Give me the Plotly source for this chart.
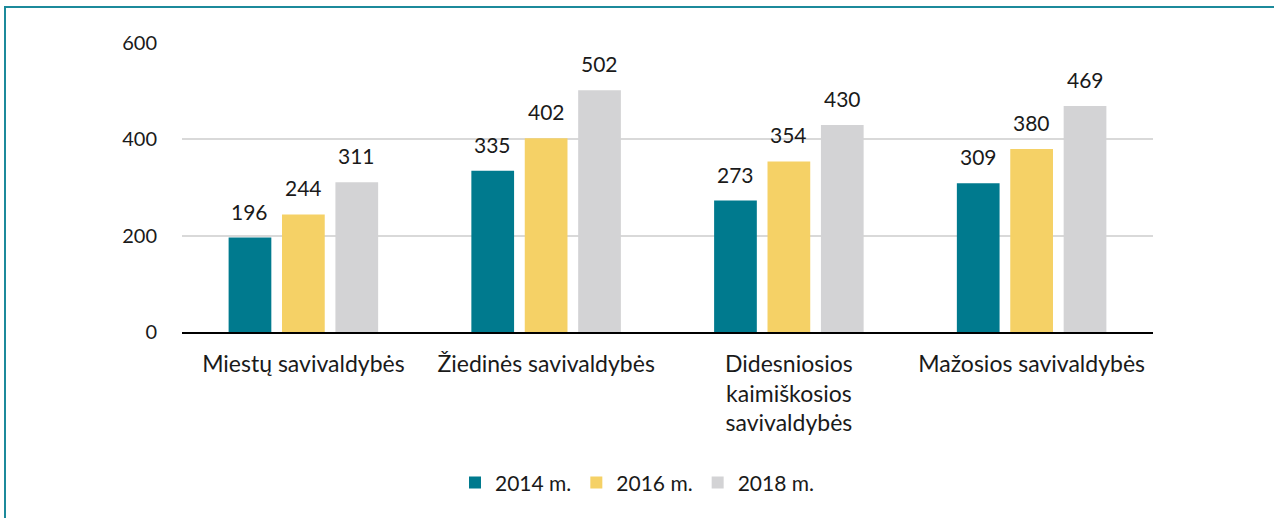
import plotly.graph_objects as go

categories = ["Miestų savivaldybės", "Žiedinės savivaldybės",
              "Didesniosios<br>kaimiškosios<br>savivaldybės", "Mažosios savivaldybės"]
series_names = ["2014 m.", "2016 m.", "2018 m."]
values_2014 = [196, 335, 273, 309]
values_2016 = [244, 402, 354, 380]
values_2018 = [311, 502, 430, 469]
colors = ["#007A8E", "#F5D166", "#D3D3D5"]
y_ticks = [0, 200, 400, 600]

FONT = "Lato, Open Sans, sans-serif"

W, H = 1274, 518
L, R, T, B = 182, 121, 43, 186
pw, ph = W - L - R, H - T - B
BARGAP = 0.34
cat_px = pw / len(categories)
slot_px = cat_px * (1 - BARGAP) / len(series_names)

fig = go.Figure()
annotations = []
all_series = [values_2014, values_2016, values_2018]
for i, (name, vals, col) in enumerate(zip(series_names, all_series, colors)):
    fig.add_trace(go.Bar(
        name=name, x=categories, y=vals, marker=dict(color=col, line=dict(width=0)),
        hoverinfo="x+y+name",
    ))
    off = (i - (len(series_names) - 1) / 2) * slot_px
    for c, v in zip(categories, vals):
        annotations.append(dict(x=c, y=v, text=str(v), showarrow=False, xref="x", yref="y",
                                xshift=off, yshift=12, yanchor="bottom",
                                font=dict(size=21, color="#1a1a1a", family=FONT)))

fig.update_layout(
    width=W, height=H,
    margin=dict(l=L, r=R, t=T, b=B),
    paper_bgcolor="white", plot_bgcolor="white",
    barmode="group", bargap=BARGAP, bargroupgap=0.2,
    font=dict(family=FONT, size=20, color="#1a1a1a"),
    showlegend=True,
    legend=dict(orientation="h", xref="container", yref="container",
                x=0.5, y=0.068, xanchor="center", yanchor="middle",
                font=dict(size=21, family=FONT), itemwidth=30, traceorder="normal"),
    yaxis=dict(range=[0, 600], tickvals=y_ticks, showgrid=True, gridcolor="#D9D9D9",
               gridwidth=2, zeroline=False, showline=False,
               ticks="outside", ticklen=20, tickcolor="rgba(0,0,0,0)",
               tickfont=dict(size=20, family=FONT)),
    xaxis=dict(showline=True, linecolor="#000000", linewidth=2,
               ticks="outside", ticklen=10, tickcolor="rgba(0,0,0,0)",
               tickfont=dict(size=23, family=FONT)),
    annotations=annotations,
    shapes=[dict(type="rect", xref="paper", yref="paper",
                 x0=(5 - L) / pw, x1=(W + 20 - L) / pw,
                 y0=(T + ph - (H + 20)) / ph, y1=(T + ph - 7) / ph,
                 line=dict(color="#1C8A9B", width=2), fillcolor="rgba(0,0,0,0)", layer="above")],
)

fig.write_html("out.html", config={"displayModeBar": False},
               post_script="document.body.style.margin='0px';")
